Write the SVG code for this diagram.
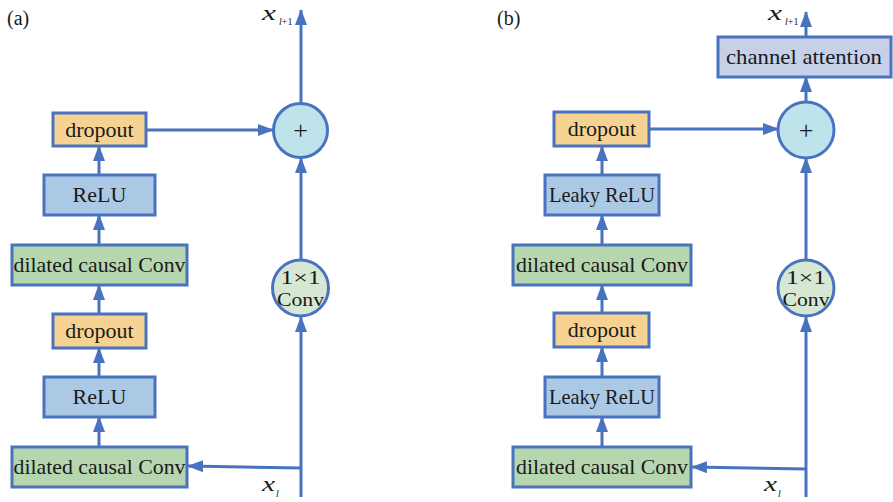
<svg xmlns="http://www.w3.org/2000/svg" width="893" height="502" viewBox="0 0 893 502">
<style>
.box{stroke:#4a73bf;stroke-width:3}
.drop{fill:#f6d392}
.relu{fill:#abc9e4}
.dil{fill:#b6d6b0}
.att{fill:#c6d0e9}
.plus{fill:#bfe3ea}
.cv{fill:#d6e8d3}
.t{font-family:"Liberation Serif","DejaVu Serif",serif;font-size:22px;fill:#1a1a1a;text-anchor:middle}
.lab{font-family:"Liberation Serif","DejaVu Serif",serif;font-size:20px;fill:#1a1a1a}
.mi{font-family:"Liberation Serif","DejaVu Serif",serif;font-style:italic;font-size:22px;fill:#1a1a1a}
.sub{font-family:"Liberation Serif","DejaVu Serif",serif;font-size:10px;fill:#1a1a1a}
.it{font-style:italic}
.c line{stroke:#4a73bf;stroke-width:3;fill:none;marker-end:url(#ah)}
</style>
<defs>
<marker id="ah" markerUnits="userSpaceOnUse" markerWidth="16" markerHeight="12" refX="15" refY="6" orient="auto">
<path d="M0,0 L16,6 L0,12 z" fill="#4a73bf"/>
</marker>
</defs>
<rect width="893" height="502" fill="#ffffff"/>

<text class="lab" x="7" y="25">(a)</text>
<text class="lab" x="497" y="25">(b)</text>

<g class="c" id="connectors">
<line x1="99" y1="447" x2="99" y2="417"/>
<line x1="99" y1="377" x2="99" y2="348"/>
<line x1="99" y1="314" x2="99" y2="285"/>
<line x1="99" y1="245" x2="99" y2="215"/>
<line x1="99" y1="175" x2="99" y2="146"/>
<line x1="146" y1="130" x2="273" y2="130"/>
<line x1="301" y1="103" x2="301" y2="10"/>
<line x1="301" y1="260" x2="301" y2="158"/>
<line x1="301" y1="497" x2="301" y2="317"/>
<line x1="301" y1="468" x2="188" y2="466"/>

<line x1="602" y1="447" x2="602" y2="417"/>
<line x1="602" y1="377" x2="602" y2="347"/>
<line x1="602" y1="313" x2="602" y2="285"/>
<line x1="602" y1="245" x2="602" y2="215"/>
<line x1="602" y1="175" x2="602" y2="146"/>
<line x1="649" y1="129" x2="778" y2="129"/>
<line x1="806" y1="102" x2="806" y2="77"/>
<line x1="806" y1="37" x2="806" y2="12"/>
<line x1="806" y1="260" x2="806" y2="158"/>
<line x1="806" y1="497" x2="806" y2="317"/>
<line x1="806" y1="469" x2="692" y2="467"/>
</g>

<g id="a_dil_low"><rect class="box dil" x="12" y="447" width="175" height="40"/><text class="t" x="99.5" y="474" textLength="172" lengthAdjust="spacingAndGlyphs">dilated causal Conv</text></g>
<g id="a_relu_low"><rect class="box relu" x="44" y="377" width="111" height="40"/><text class="t" x="99.5" y="404">ReLU</text></g>
<g id="a_drop_low"><rect class="box drop" x="53" y="314" width="93" height="34"/><text class="t" x="99.5" y="338">dropout</text></g>
<g id="a_dil_up"><rect class="box dil" x="12" y="245" width="175" height="40"/><text class="t" x="99.5" y="272" textLength="172" lengthAdjust="spacingAndGlyphs">dilated causal Conv</text></g>
<g id="a_relu_up"><rect class="box relu" x="44" y="175" width="111" height="40"/><text class="t" x="99.5" y="202">ReLU</text></g>
<g id="a_drop_up"><rect class="box drop" x="53" y="113" width="93" height="33"/><text class="t" x="99.5" y="137">dropout</text></g>
<g id="a_plus"><circle class="box plus" cx="300.5" cy="130.5" r="27"/><text class="t" x="300.5" y="139" style="font-size:26px">+</text></g>
<g id="a_conv"><circle class="box cv" cx="300.5" cy="288" r="28"/><text class="t" x="300.5" y="284" style="font-size:19px" textLength="40" lengthAdjust="spacingAndGlyphs">1×1</text><text class="t" x="300.5" y="306" style="font-size:19px" textLength="47" lengthAdjust="spacingAndGlyphs">Conv</text></g>
<g id="a_xl1"><text class="mi" x="262" y="19.5" textLength="14" lengthAdjust="spacingAndGlyphs">x</text><text class="sub" x="279" y="25"><tspan class="it">l</tspan>+1</text></g>
<g id="a_xl"><text class="mi" x="262" y="491" textLength="13" lengthAdjust="spacingAndGlyphs">x</text><text class="sub it" x="276" y="497">l</text></g>

<g id="b_dil_low"><rect class="box dil" x="513" y="447" width="178" height="40"/><text class="t" x="602" y="474" textLength="172" lengthAdjust="spacingAndGlyphs">dilated causal Conv</text></g>
<g id="b_relu_low"><rect class="box relu" x="545" y="377" width="114" height="40"/><text class="t" x="602" y="404" textLength="106" lengthAdjust="spacingAndGlyphs">Leaky ReLU</text></g>
<g id="b_drop_low"><rect class="box drop" x="554" y="313" width="95" height="34"/><text class="t" x="602" y="337">dropout</text></g>
<g id="b_dil_up"><rect class="box dil" x="513" y="245" width="178" height="40"/><text class="t" x="602" y="272" textLength="172" lengthAdjust="spacingAndGlyphs">dilated causal Conv</text></g>
<g id="b_relu_up"><rect class="box relu" x="545" y="175" width="114" height="40"/><text class="t" x="602" y="202" textLength="106" lengthAdjust="spacingAndGlyphs">Leaky ReLU</text></g>
<g id="b_drop_up"><rect class="box drop" x="554" y="112" width="95" height="34"/><text class="t" x="602" y="136">dropout</text></g>
<g id="b_att"><rect class="box att" x="718" y="37" width="173" height="40"/><text class="t" x="804" y="64" textLength="156" lengthAdjust="spacingAndGlyphs">channel attention</text></g>
<g id="b_plus"><circle class="box plus" cx="806" cy="130" r="28"/><text class="t" x="806" y="139" style="font-size:26px">+</text></g>
<g id="b_conv"><circle class="box cv" cx="806" cy="288" r="28"/><text class="t" x="806" y="284" style="font-size:19px" textLength="40" lengthAdjust="spacingAndGlyphs">1×1</text><text class="t" x="806" y="306" style="font-size:19px" textLength="47" lengthAdjust="spacingAndGlyphs">Conv</text></g>
<g id="b_xl1"><text class="mi" x="768" y="19.5" textLength="14" lengthAdjust="spacingAndGlyphs">x</text><text class="sub" x="785" y="25"><tspan class="it">l</tspan>+1</text></g>
<g id="b_xl"><text class="mi" x="764" y="491" textLength="13" lengthAdjust="spacingAndGlyphs">x</text><text class="sub it" x="778" y="497">l</text></g>
</svg>
